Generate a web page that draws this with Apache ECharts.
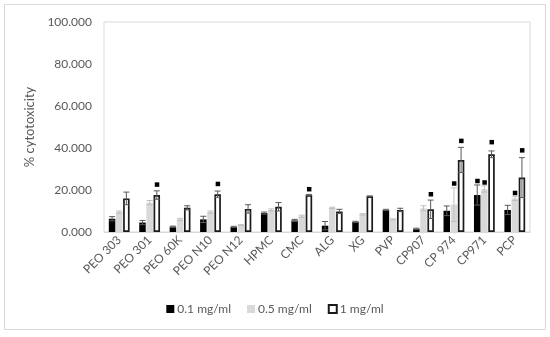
<!DOCTYPE html>
<html><head><meta charset="utf-8">
<script src="https://cdn.jsdelivr.net/npm/echarts@6/dist/echarts.min.js"></script>
<style>html,body{margin:0;padding:0;background:#fff}#c{width:550px;height:337px}</style>
</head><body><div id="c"></div>
<script>
const categories = ['PEO 303','PEO 301','PEO 60K','PEO N10','PEO N12','HPMC','CMC','ALG','XG','PVP','CP907','CP 974','CP971','PCP'];
const seriesNames = ['0.1 mg/ml','0.5 mg/ml','1 mg/ml'];
const vals01 = [6.3, 4.5, 2.5, 6.0, 2.4, 9.0, 5.5, 3.0, 4.8, 10.5, 1.5, 10.1, 17.6, 10.5];
const err01  = [1.0, 1.0, 0.3, 1.5, 0.3, 0.5, 0.5, 2.0, 0.3, 0.3, 0.3, 2.3, 4.8, 2.2];
const vals05 = [9.5, 14.0, 6.0, 9.5, 3.3, 10.5, 7.5, 11.5, 8.4, 6.0, 11.3, 13.0, 20.5, 16.0];
const err05  = [0.5, 1.0, 0.5, 0.5, 0.2, 0.5, 0.5, 0.3, 0.3, 0.3, 1.2, 8.0, 1.5, 1.0];
const vals1  = [16.0, 17.6, 11.5, 18.0, 11.0, 12.0, 17.6, 9.8, 17.0, 10.5, 10.8, 34.3, 37.0, 25.9];
const err1   = [3.0, 2.0, 1.0, 1.5, 2.0, 2.0, 0.3, 1.0, 0.2, 0.8, 4.4, 6.0, 1.6, 9.5];
// significance markers: [category index, series index, y value]
const markers = [[1,2,22.7],[3,2,23.0],[6,2,20.5],[10,2,18.1],[11,1,23.2],[11,2,43.5],[12,0,24.4],[12,1,23.7],[12,2,42.9],[13,1,18.7],[13,2,39.0]];
const yTicks = [0,20,40,60,80,100];

const FONT = 'Lato';
const BW = 6.5, GAPF = 0.1;
const step = BW*(1+GAPF);
const offsets = [-step, 0, step];

function errSeries(vals, errs, idx, color){
  return {
    type:'custom', silent:true, z:5,
    data: vals.map((v,i)=>[i, v, errs[i]]),
    renderItem(params, api){
      const i=api.value(0), v=api.value(1), e=api.value(2);
      const hi=api.coord([i, v+e]), lo=api.coord([i, v-e]);
      const x=hi[0]+offsets[idx], cap=3;
      const st={stroke:color, lineWidth:1};
      return {type:'group', children:[
        {type:'line', shape:{x1:x,y1:hi[1],x2:x,y2:lo[1]}, style:st},
        {type:'line', shape:{x1:x-cap,y1:hi[1],x2:x+cap,y2:hi[1]}, style:st},
        {type:'line', shape:{x1:x-cap,y1:lo[1],x2:x+cap,y2:lo[1]}, style:st}
      ]};
    }
  };
}

const chart = echarts.init(document.getElementById('c'), null, {renderer:'canvas'});
chart.setOption({
  animation:false,
  backgroundColor:'#fff',
  graphic:[{type:'rect', shape:{x:4.5,y:4.5,width:541,height:325}, style:{fill:'none', stroke:'#d9d9d9', lineWidth:1}, z:-10}],
  grid:{left:104, right:20, top:22, bottom:105, show:true, borderColor:'#d9d9d9', borderWidth:1},
  legend:{
    data:seriesNames, bottom:17, left:'center', itemWidth:8, itemHeight:8, itemGap:16,
    textStyle:{fontFamily:FONT, fontSize:12, color:'#595959', padding:[0,0,0,-2]},
    icon:'rect'
  },
  xAxis:{
    type:'category', data:categories,
    axisLine:{lineStyle:{color:'#d9d9d9'}}, axisTick:{show:false},
    axisLabel:{rotate:45, interval:0, fontFamily:FONT, fontSize:12, color:'#595959', margin:6}
  },
  yAxis:{
    type:'value', min:0, max:100, interval:20,
    name:'% cytotoxicity', nameLocation:'middle', nameGap:64, nameRotate:90,
    nameTextStyle:{fontFamily:FONT, fontSize:13, color:'#595959'},
    axisLine:{show:false}, axisTick:{show:false}, splitLine:{show:false},
    axisLabel:{fontFamily:FONT, fontSize:12, color:'#595959', margin:12, formatter:v=>v.toFixed(3)}
  },
  series:[
    {name:seriesNames[0], type:'bar', data:vals01, barWidth:BW, barGap:'10%', itemStyle:{color:'#000'}},
    {name:seriesNames[1], type:'bar', data:vals05, barWidth:BW, barGap:'10%', itemStyle:{color:'#d9d9d9'}},
    {name:seriesNames[2], type:'bar', data:vals1, barWidth:BW, barGap:'10%', itemStyle:{color:'#fff', borderColor:'#1a1a1a', borderWidth:1.7}},
    errSeries(vals01, err01, 0, '#595959'),
    errSeries(vals05, err05, 1, '#bfbfbf'),
    errSeries(vals1, err1, 2, '#595959'),
    {
      type:'custom', silent:true, z:6,
      data: markers,
      renderItem(params, api){
        const i=api.value(0), s=api.value(1), y=api.value(2);
        const p=api.coord([i, y]);
        return {type:'rect', shape:{x:p[0]+offsets[s]-2, y:p[1]-2, width:4.5, height:4.5}, style:{fill:'#000'}};
      }
    }
  ]
});
</script></body></html>
